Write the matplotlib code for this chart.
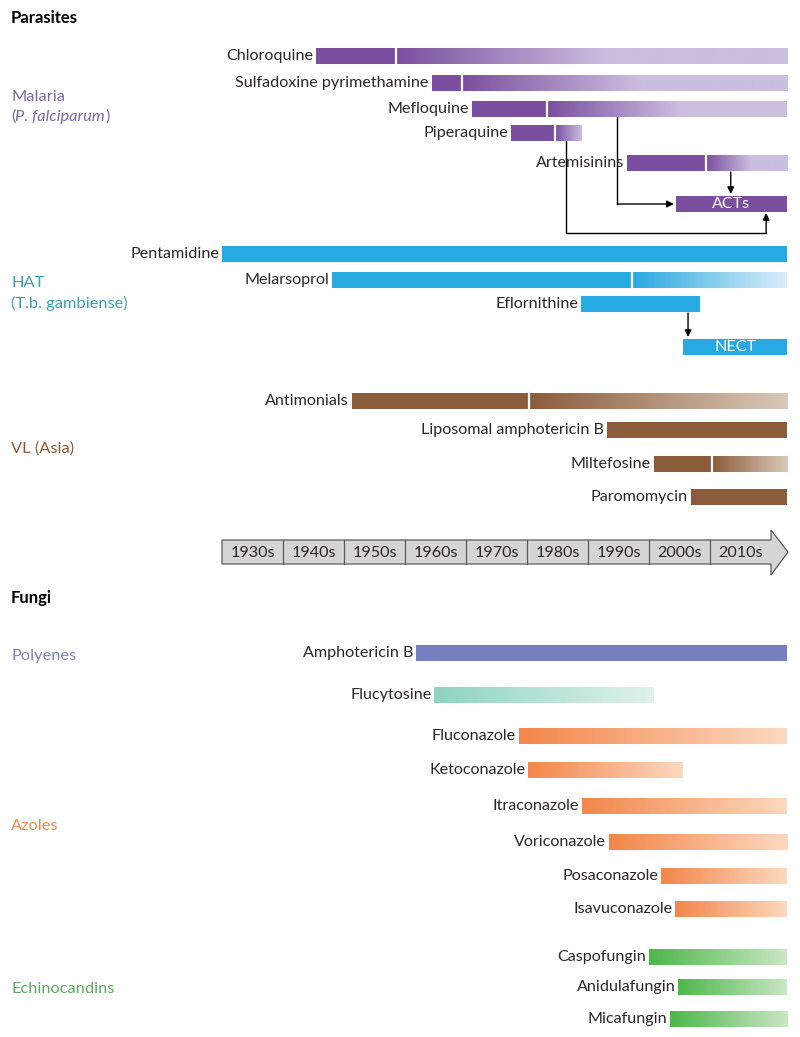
import numpy as np
import matplotlib
matplotlib.use("Agg")
import matplotlib.pyplot as plt
from matplotlib.colors import to_rgb
from matplotlib.patches import Polygon, FancyArrowPatch

plt.rcParams['font.family'] = ['Lato', 'DejaVu Sans']

# ---------------- data (years) ----------------
# Malaria
mal_drugs = ["Chloroquine", "Sulfadoxine pyrimethamine", "Mefloquine", "Piperaquine", "Artemisinins"]
mal_start = [1945.4, 1964.4, 1971.0, 1977.4, 1996.4]
mal_split = [1958.5, 1969.3, 1983.3, 1984.6, 2009.3]
mal_fade_end = [1992.8, 1998.5, 2005.0, 1988.9, 2016.6]
mal_end = [2022.6, 2022.6, 2022.6, 1988.9, 2022.6]
acts_start, acts_end = 2004.4, 2022.6

# HAT
hat_drugs = ["Pentamidine", "Melarsoprol", "Eflornithine"]
hat_start = [1930.0, 1948.0, 1988.9]
hat_split = [None, 1997.2, None]
hat_end = [2022.6, 2022.6, 2008.4]
nect_start, nect_end = 2005.6, 2022.6

# VL (Asia)
vl_drugs = ["Antimonials", "Liposomal amphotericin B", "Miltefosine", "Paromomycin"]
vl_start = [1951.3, 1993.1, 2000.8, 2006.9]
vl_split = [1980.3, None, 2010.3, None]
vl_end = [2022.6, 2022.6, 2022.6, 2022.6]

# Fungi
fungi_drugs = ["Amphotericin B", "Flucytosine", "Fluconazole", "Ketoconazole", "Itraconazole",
               "Voriconazole", "Posaconazole", "Isavuconazole", "Caspofungin", "Anidulafungin",
               "Micafungin"]
fungi_start = [1961.8, 1964.8, 1978.7, 1980.2, 1989.0, 1993.4, 2002.0, 2004.3, 2000.0, 2004.8, 2003.4]
fungi_end = [2022.6, 2000.8, 2022.6, 2005.6, 2022.6, 2022.6, 2022.6, 2022.6, 2022.6, 2022.6, 2022.6]

decades = ["1930s", "1940s", "1950s", "1960s", "1970s", "1980s", "1990s", "2000s", "2010s"]
decade_years = [1930, 1940, 1950, 1960, 1970, 1980, 1990, 2000, 2010]

# ---------------- layout ----------------
PX_PER_YEAR = 6.1
X0_PX = 222
W, H = 800, 1037
xmin = 1930 - X0_PX / PX_PER_YEAR
xmax = 1930 + (W - X0_PX) / PX_PER_YEAR

mal_y = [56, 83, 109, 133, 163]
acts_y = 204
hat_y = [254, 280, 304]
nect_y = 347
vl_y = [401, 430, 464, 497]
fungi_y = [653, 695, 736, 770, 806, 842, 876, 909, 957, 987, 1019]
BH = 16
FS = 11.6

PURPLE = ("#7b4f9f", "#cbbedf")
BLUE = ("#27a9e1", "#dcedf9")
BROWN = ("#8b5c3b", "#dac9b9")
AMPH = ("#7680c0", "#7680c0")
TEAL = ("#8ed4be", "#e0f2ec")
ORANGE = ("#f3864a", "#fdd9c0")
GREEN = ("#4cb74a", "#cae7c5")
TXT = "#2a2627"

fig = plt.figure(figsize=(W / 100, H / 100), dpi=100)
ax = fig.add_axes([0, 0, 1, 1])
ax.set_xlim(xmin, xmax)
ax.set_ylim(H, 0)
ax.axis('off')

def px(dx):
    return dx / PX_PER_YEAR

def solid(x0, x1, y, color):
    ax.add_patch(plt.Rectangle((x0, y - BH / 2), x1 - x0, BH, facecolor=color, edgecolor='none', zorder=2))

def grad(x0, x1, y, c0, c1, fade_end=None):
    if fade_end is None:
        fade_end = x1
    n = 300
    xs = np.linspace(x0, x1, n)
    t = np.clip((xs - x0) / max(fade_end - x0, 1e-6), 0, 1)
    a = np.array(to_rgb(c0)); b = np.array(to_rgb(c1))
    img = (a[None, :] * (1 - t[:, None]) + b[None, :] * t[:, None])[None, :, :]
    ax.imshow(img, extent=(x0, x1, y + BH / 2, y - BH / 2), aspect='auto',
              interpolation='bilinear', zorder=2)

def label(x, y, s, color=TXT):
    ax.text(x - px(3), y, s, ha='right', va='center', fontsize=FS, color=color, zorder=3)

def gap(x, y):
    ax.plot([x, x], [y - BH / 2, y + BH / 2], color='white', lw=1.6, zorder=4, solid_capstyle='butt')

# ---------- section titles ----------
ax.text(xmin + px(11), 18, "Parasites", fontsize=12, fontweight='bold', va='center', color='black')
ax.text(xmin + px(11), 598, "Fungi", fontsize=12, fontweight='bold', va='center', color='black')

# ---------- group labels ----------
MAL_C = "#7a68a8"
HAT_C = "#3a9fb9"
VL_C = "#8b5a3a"
gx = xmin + px(11)
GFS = 11.8
ax.text(gx, 97, "Malaria", fontsize=GFS, va='center', color=MAL_C)
t1 = ax.text(gx, 121, "(", fontsize=GFS, va='baseline', color=MAL_C)
t2 = ax.annotate("P. falciparum", xy=(1, 0), xycoords=t1, fontsize=GFS, style='italic',
                 va='bottom', color=MAL_C)
ax.annotate(")", xy=(1, 0), xycoords=t2, fontsize=GFS, va='bottom', color=MAL_C)
ax.text(gx, 283, "HAT", fontsize=GFS, va='center', color=HAT_C)
ax.text(gx, 303, "(T.b. gambiense)", fontsize=GFS, va='center', color=HAT_C)
ax.text(gx, 449, "VL (Asia)", fontsize=GFS, va='center', color=VL_C)
ax.text(gx, 656, "Polyenes", fontsize=GFS, va='center', color="#7d85c4")
ax.text(gx, 826, "Azoles", fontsize=GFS, va='center', color="#f28a4b")
ax.text(gx, 989, "Echinocandins", fontsize=GFS, va='center', color="#5aae5a")

# ---------- malaria ----------
for name, s, sp, fe, e, y in zip(mal_drugs, mal_start, mal_split, mal_fade_end, mal_end, mal_y):
    solid(s, sp, y, PURPLE[0])
    grad(sp, e, y, PURPLE[0], PURPLE[1], fade_end=fe)
    gap(sp, y)
    label(s, y, name)
solid(acts_start, acts_end, acts_y, PURPLE[0])
ax.text((acts_start + acts_end) / 2, acts_y, "ACTs", ha='center', va='center', color='white', fontsize=FS, zorder=5)

# connectors
ARW = dict(arrowstyle='-|>', mutation_scale=10, color='black', lw=1.0, shrinkA=0, shrinkB=0)
mef_x = 1994.8
ax.plot([mef_x, mef_x], [mal_y[2] + BH / 2, acts_y], color='black', lw=1.0, zorder=1)
ax.add_patch(FancyArrowPatch((mef_x, acts_y), (acts_start - px(2), acts_y), **ARW, zorder=3))
pip_x = 1986.4
pip_right = 2019.2
ax.plot([pip_x, pip_x, pip_right], [mal_y[3] + BH / 2, 233, 233], color='black', lw=1.0, zorder=1)
ax.add_patch(FancyArrowPatch((pip_right, 233), (pip_right, acts_y + BH / 2 + 1), **ARW, zorder=3))
art_x = 2013.4
ax.add_patch(FancyArrowPatch((art_x, mal_y[4] + BH / 2 + 1), (art_x, acts_y - BH / 2 - 2), **ARW, zorder=3))

# ---------- HAT ----------
for name, s, sp, e, y in zip(hat_drugs, hat_start, hat_split, hat_end, hat_y):
    if sp is None:
        solid(s, e, y, BLUE[0])
    else:
        solid(s, sp, y, BLUE[0])
        grad(sp, e, y, BLUE[0], BLUE[1])
        gap(sp, y)
    label(s, y, name)
solid(nect_start, nect_end, nect_y, BLUE[0])
ax.text((nect_start + nect_end) / 2, nect_y, "NECT", ha='center', va='center', color='white', fontsize=FS, zorder=5)
ef_x = 2006.4
ax.add_patch(FancyArrowPatch((ef_x, hat_y[2] + BH / 2 + 1), (ef_x, nect_y - BH / 2 - 2), **ARW, zorder=3))

# ---------- VL ----------
for name, s, sp, e, y in zip(vl_drugs, vl_start, vl_split, vl_end, vl_y):
    if sp is None:
        solid(s, e, y, BROWN[0])
    else:
        solid(s, sp, y, BROWN[0])
        grad(sp, e, y, BROWN[0], BROWN[1])
        gap(sp, y)
    label(s, y, name)

# ---------- timeline ----------
ty0, ty1 = 540, 564
head_base = 2020
tip = xmax - px(12)
poly = Polygon([(1930, ty0), (head_base, ty0), (head_base, 530), (tip, (ty0 + ty1) / 2),
                (head_base, 575), (head_base, ty1), (1930, ty1)], closed=True,
               facecolor="#d5d5d5", edgecolor="#5a5a5a", lw=0.9, zorder=2)
ax.add_patch(poly)
for d, yr in zip(decades, decade_years):
    if yr > 1930:
        ax.plot([yr, yr], [ty0, ty1], color="#5a5a5a", lw=0.9, zorder=3)
    ax.text(yr + 5, (ty0 + ty1) / 2 + 1, d, ha='center', va='center', fontsize=FS, color=TXT, zorder=4)

# ---------- fungi ----------
fungi_colors = [AMPH, TEAL] + [ORANGE] * 6 + [GREEN] * 3
for name, s, e, y, c in zip(fungi_drugs, fungi_start, fungi_end, fungi_y, fungi_colors):
    if c[0] == c[1]:
        solid(s, e, y, c[0])
    else:
        grad(s, e, y, c[0], c[1])
    label(s, y, name)

ax.set_xlim(xmin, xmax)
ax.set_ylim(H, 0)
fig.savefig("out.png", dpi=100)
